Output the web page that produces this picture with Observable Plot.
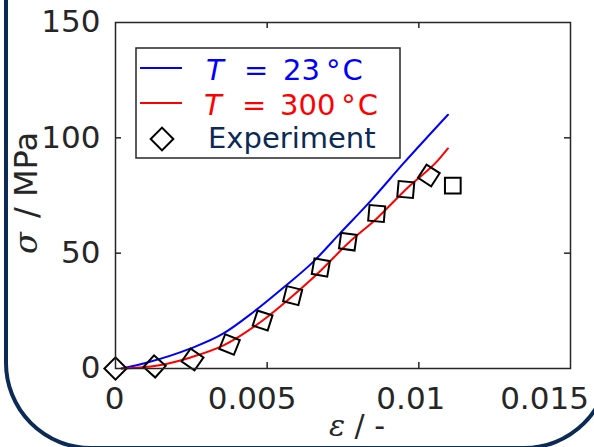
<!DOCTYPE html>
<html>
<head>
<meta charset="utf-8">
<script src="https://cdn.jsdelivr.net/npm/d3@7"></script>
<script src="https://cdn.jsdelivr.net/npm/@observablehq/plot@0.6"></script>
<style>
  html, body { margin: 0; padding: 0; background: #fff; overflow: hidden; }
  #wrap { position: relative; width: 594px; height: 447px; overflow: hidden; }
  #frame { position: absolute; left: 4px; top: -300px; width: 607px; height: 750px;
           box-sizing: border-box; border: 4px solid #0b2a55; border-radius: 87px; z-index: 0; }
  #chart { position: absolute; left: 0; top: 0; z-index: 1; }
</style>
</head>
<body>
<div id="wrap"><div id="frame"></div><div id="chart"></div></div>
<script>
// ---- data ----
const xTicks = [0, 0.005, 0.01, 0.015];
const xTickLabels = ["0", "0.005", "0.01", "0.015"];
const yTicks = [0, 50, 100, 150];
const yTickLabels = ["0", "50", "100", "150"];

const strainBlue = [0.0002, 0.00105, 0.00248, 0.00356, 0.00455, 0.00554, 0.0065, 0.00743, 0.00842, 0.0095, 0.01096];
const stressBlue = [0, 2.6, 8.7, 15.2, 24.5, 35.1, 46, 59, 72.8, 89, 110];

const strainRed = [0.0002, 0.00139, 0.00248, 0.00356, 0.00485, 0.00578, 0.00677, 0.00766, 0.00865, 0.00964, 0.01063, 0.01096];
const stressRed = [0, 1.3, 4.8, 10, 20.8, 30.8, 42.5, 54.2, 65.5, 78.5, 90.2, 95.4];

const expStrain = [0, 0.00129, 0.00254, 0.00376, 0.00485, 0.00584, 0.00677, 0.00766, 0.00861, 0.00957, 0.01033, 0.01112];
const expStress = [0, 0.9, 3.9, 10.4, 20.8, 31.6, 43.8, 55.0, 67.2, 77.6, 83.7, 79.3];
const expRotation = [45, 42, 35, 22, 18, 14, 10, 8, 5, 5, 33, 0];

const legendValues = ["23", "300"];
const legendUnit = "°C";
const legendExp = "Experiment";

// ---- tables ----
const blue = strainBlue.map((x, i) => ({x, y: stressBlue[i]}));
const red = strainRed.map((x, i) => ({x, y: stressRed[i]}));
const exp = expStrain.map((x, i) => ({x, y: expStress[i], r: expRotation[i]}));

const W = 594, H = 447;
const mL = 115, mR = 24, mT = 22, mB = 79;
const xMax = 0.015, yMax = 150;
const tickPx = 6;
const tx = xMax * tickPx / (W - mL - mR);
const ty = yMax * tickPx / (H - mT - mB);
const inner = (a) => a.slice(1, -1);
const ink = "#262626";
const font = "DejaVu Sans, sans-serif";
const xLabelShift = [-1, -15, -8, -26];

const plot = Plot.plot({
  width: W, height: H,
  marginLeft: mL, marginRight: mR, marginTop: mT, marginBottom: mB,
  style: {fontFamily: font, background: "transparent", overflow: "visible"},
  x: {domain: [0, xMax], axis: null},
  y: {domain: [0, yMax]},
  marks: [
    Plot.line(blue, {x: "x", y: "y", stroke: "#0000ff", strokeWidth: 2, curve: "monotone-x"}),
    Plot.line(red, {x: "x", y: "y", stroke: "#ff0000", strokeWidth: 2, curve: "monotone-x"}),
    Plot.dot(exp, {x: "x", y: "y", symbol: "square2", r: 10, rotate: "r", stroke: "#000", strokeWidth: 2, fill: "none"}),
    Plot.ruleX(inner(xTicks), {x: d => d, y1: 0, y2: ty, stroke: ink, strokeWidth: 1.5}),
    Plot.ruleX(inner(xTicks), {x: d => d, y1: yMax, y2: yMax - ty, stroke: ink, strokeWidth: 1.5}),
    Plot.ruleY(inner(yTicks), {y: d => d, x1: 0, x2: tx, stroke: ink, strokeWidth: 1.5}),
    Plot.ruleY(inner(yTicks), {y: d => d, x1: xMax, x2: xMax - tx, stroke: ink, strokeWidth: 1.5}),
    Plot.frame({stroke: ink, strokeWidth: 1.5}),
    ...xTicks.map((t, i) => Plot.text([t], {x: d => d, frameAnchor: "bottom", lineAnchor: "top", dy: 18,
      dx: xLabelShift[i], text: () => xTickLabels[i], fontSize: 31, fill: ink})),
    Plot.axisY({ticks: yTicks, tickSize: 0, tickPadding: 15, tickFormat: (d, i) => yTickLabels[i], fontSize: 31, fill: ink, label: null})
  ]
});
document.getElementById("chart").appendChild(plot);

// ---- axis titles and legend ----
const svg = d3.select(plot);
const yl = svg.append("text").attr("transform", "translate(37,193) rotate(-90)")
  .attr("text-anchor", "middle").attr("font-family", font).attr("font-size", 32).attr("fill", ink);
yl.append("tspan").attr("font-style", "italic").attr("font-family", "DejaVu Serif, serif").text("σ");
yl.append("tspan").attr("dx", 4).text(" / MPa");

const xl = svg.append("text").attr("x", 357).attr("y", 436)
  .attr("text-anchor", "middle").attr("font-family", font).attr("font-size", 30).attr("fill", ink);
xl.append("tspan").attr("font-style", "italic").attr("font-family", "DejaVu Serif, serif").text("ε");
xl.append("tspan").text(" / -");

const lg = svg.append("g").attr("font-family", font).attr("font-size", 29).attr("text-anchor", "start");
lg.append("rect").attr("x", 136).attr("y", 48).attr("width", 264).attr("height", 110)
  .attr("fill", "#fff").attr("stroke", ink).attr("stroke-width", 1.5);
const rows = [{c: "#0000ff", y: 68, b: 80, tx: 206, ex: 244, nx: 283}, {c: "#ff0000", y: 103, b: 115, tx: 204, ex: 242, nx: 280}];
rows.forEach((r, i) => {
  lg.append("line").attr("x1", 140).attr("x2", 182).attr("y1", r.y).attr("y2", r.y)
    .attr("stroke", r.c).attr("stroke-width", 2);
  const t = lg.append("text").attr("y", r.b).attr("fill", r.c);
  t.append("tspan").attr("x", r.tx).attr("font-style", "italic").text("T");
  t.append("tspan").attr("x", r.ex).text("=");
  t.append("tspan").attr("x", r.nx).text(legendValues[i]);
  t.append("tspan").attr("dx", 6).text(legendUnit.slice(0, 1));
  t.append("tspan").attr("dx", 2).text(legendUnit.slice(1));
});
const s = 16 / 2;
lg.append("path").attr("transform", "translate(162,139) rotate(45)")
  .attr("d", `M${-s},${-s}H${s}V${s}H${-s}Z`).attr("fill", "none").attr("stroke", "#000").attr("stroke-width", 2);
lg.append("text").attr("x", 208).attr("y", 148).attr("fill", "#0b2a55").text(legendExp);
</script>
</body>
</html>
